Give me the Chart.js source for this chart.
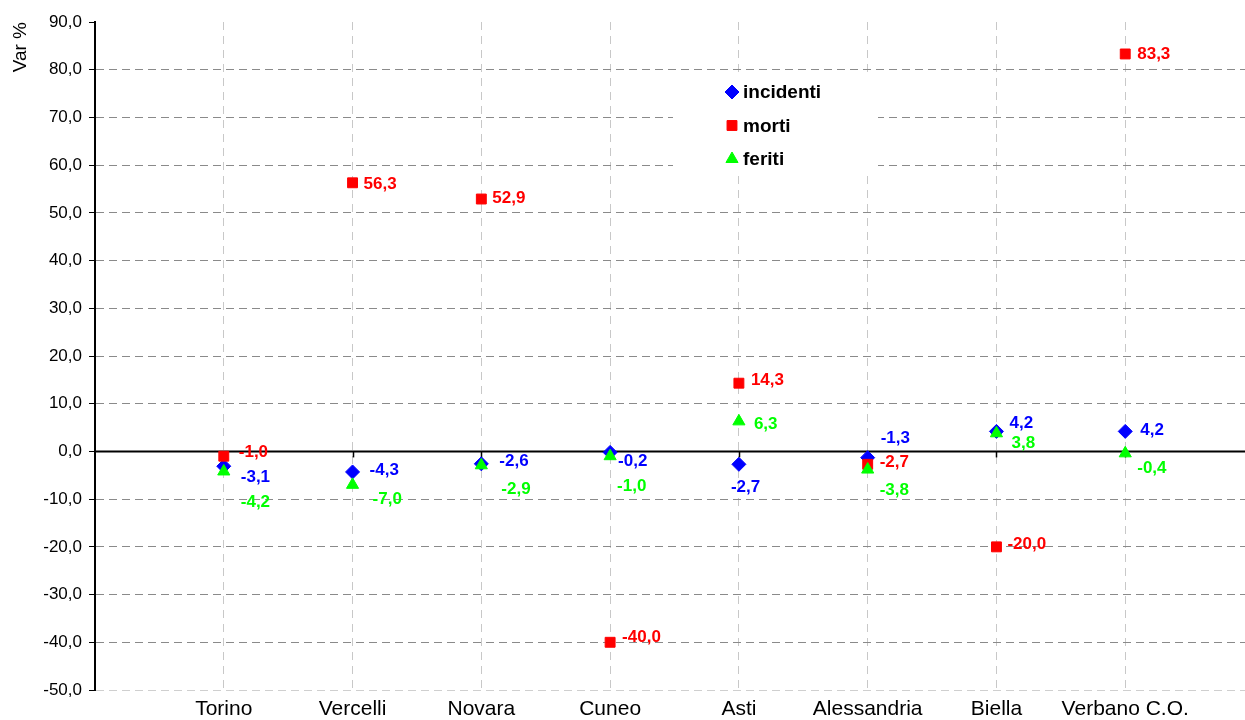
<!DOCTYPE html>
<html>
<head>
<meta charset="utf-8">
<script src="https://cdn.jsdelivr.net/npm/chart.js@4/dist/chart.umd.min.js"></script>
<style>
  html, body { margin: 0; padding: 0; background: #fff; overflow: hidden; }
  #wrap { position: absolute; left: 0; top: 0; width: 1245px; height: 720px; }
  #chart { display: block; }
</style>
</head>
<body>
<div id="wrap"><canvas id="chart"></canvas></div>
<script>
// province e variazioni %
const province = ['Torino', 'Vercelli', 'Novara', 'Cuneo', 'Asti', 'Alessandria', 'Biella', 'Verbano C.O.'];
const incidenti = [-3.1, -4.3, -2.6, -0.2, -2.7, -1.3, 4.2, 4.2];
const morti = [-1.0, 56.3, 52.9, -40.0, 14.3, -2.7, -20.0, 83.3];
const feriti = [-4.2, -7.0, -2.9, -1.0, 6.3, -3.8, 3.8, -0.4];

// spostamento etichette (dx, dy) rispetto al punto
const incidentiNudge = [[17, 11], [17, -2], [18, -3], [8, 9], [-8, 23], [13, -19], [13, -8], [15, -1]];
const mortiNudge = [[15, -4], [11, 2], [11, -1], [12, -5], [12, -3], [12, -2], [11, -3], [12, 0]];
const feritiNudge = [[17, 31], [20, 14], [20, 24], [7, 30], [15, 3], [12, 21], [15, 10], [12, 15]];

const FONT = "'Liberation Sans', Arial, sans-serif";
const fmt = v => v.toFixed(1).replace('.', ',');
const toPoints = arr => arr.map((v, i) => ({ x: i + 1, y: v }));

const series = [
  { label: 'incidenti', data: incidenti, nudge: incidentiNudge, color: '#0000ff', style: 'rectRot', order: 2 },
  { label: 'morti', data: morti, nudge: mortiNudge, color: '#ff0000', style: 'rect', order: 1 },
  { label: 'feriti', data: feriti, nudge: feritiNudge, color: '#00ff00', style: 'triangle', order: 0 }
];

// linea dello zero con tacche
const zeroLine = {
  id: 'zeroLine',
  beforeDatasetsDraw(chart) {
    const { ctx, chartArea, scales } = chart;
    const y = scales.y.getPixelForValue(0);
    ctx.save();
    ctx.strokeStyle = '#000';
    ctx.lineWidth = 2;
    ctx.beginPath();
    ctx.moveTo(chartArea.left, y);
    ctx.lineTo(chartArea.right, y);
    ctx.stroke();
    ctx.lineWidth = 1.5;
    province.forEach((p, i) => {
      const x = Math.round(scales.x.getPixelForValue(i + 1)) + 0.5;
      ctx.beginPath();
      ctx.moveTo(x, y);
      ctx.lineTo(x, y + 6);
      ctx.stroke();
    });
    ctx.restore();
  }
};

// etichette dei valori
const valueLabels = {
  id: 'valueLabels',
  afterDatasetsDraw(chart) {
    const ctx = chart.ctx;
    ctx.save();
    ctx.font = 'bold 17px ' + FONT;
    ctx.textAlign = 'left';
    ctx.textBaseline = 'middle';
    chart.data.datasets.forEach((ds, di) => {
      const meta = chart.getDatasetMeta(di);
      const s = series[di];
      ctx.fillStyle = s.color;
      meta.data.forEach((pt, i) => {
        const [dx, dy] = s.nudge[i];
        ctx.fillText(fmt(s.data[i]), pt.x + dx, pt.y + dy);
      });
    });
    ctx.restore();
  }
};

// legenda nel grafico
const boxLegend = {
  id: 'boxLegend',
  afterDraw(chart) {
    const ctx = chart.ctx;
    ctx.save();
    ctx.fillStyle = '#fff';
    ctx.fillRect(673, 74, 205, 98);
    ctx.font = 'bold 19px ' + FONT;
    ctx.textAlign = 'left';
    ctx.textBaseline = 'middle';
    series.forEach((s, i) => {
      const y = 92 + i * 33.5;
      ctx.fillStyle = s.color;
      ctx.strokeStyle = s.color;
      Chart.helpers.drawPoint(ctx, { pointStyle: s.style, radius: 7, rotation: 0, borderWidth: 1 }, 732, y);
      ctx.fillStyle = '#000';
      ctx.fillText(s.label, 743, y + 1);
    });
    ctx.restore();
  }
};

new Chart(document.getElementById('chart'), {
  type: 'scatter',
  data: {
    datasets: series.map(s => ({
      label: s.label,
      data: toPoints(s.data),
      order: s.order,
      pointStyle: s.style,
      pointRadius: 7,
      pointHoverRadius: 7,
      backgroundColor: s.color,
      borderColor: s.color,
      borderWidth: 1,
      showLine: false
    }))
  },
  options: {
    responsive: true,
    maintainAspectRatio: false,
    animation: false,
    layout: { autoPadding: false, padding: { top: 22, right: 0, bottom: 0, left: 0 } },
    plugins: {
      legend: { display: false },
      tooltip: { enabled: false }
    },
    scales: {
      x: {
        type: 'linear',
        min: 0,
        max: 8.93,
        afterBuildTicks: scale => { scale.ticks = province.map((p, i) => ({ value: i + 1 })); },
        afterFit: scale => {
          scale.height = 30;
          scale.paddingLeft = 0;
          scale.paddingRight = 0;
        },
        ticks: {
          callback: (v, i) => province[i],
          color: '#000',
          font: { family: FONT, size: 21 },
          padding: 7,
          maxRotation: 0,
          autoSkip: false
        },
        grid: { color: '#c8c8c8', lineWidth: 1, drawTicks: false },
        border: { display: false, dash: [8, 6] }
      },
      y: {
        min: -50,
        max: 90,
        afterFit: scale => { scale.width = 95; },
        ticks: {
          stepSize: 10,
          callback: v => fmt(v),
          color: '#000',
          font: { family: FONT, size: 17 },
          padding: 7
        },
        grid: {
          color: ctx => {
            const v = ctx.tick && ctx.tick.value;
            if (v === 0 || v === 90) return 'rgba(0,0,0,0)';
            if (v === -50) return '#cfcfcf';
            return '#8a8a8a';
          },
          tickColor: '#000',
          tickLength: 6,
          lineWidth: 1
        },
        border: { display: true, color: '#000', width: 2, dash: [8, 5] },
        title: {
          display: true,
          text: 'Var %',
          align: 'end',
          color: '#000',
          font: { family: FONT, size: 19 },
          padding: { top: 9, bottom: 0 }
        }
      }
    }
  },
  plugins: [zeroLine, valueLabels, boxLegend]
});
</script>
</body>
</html>
